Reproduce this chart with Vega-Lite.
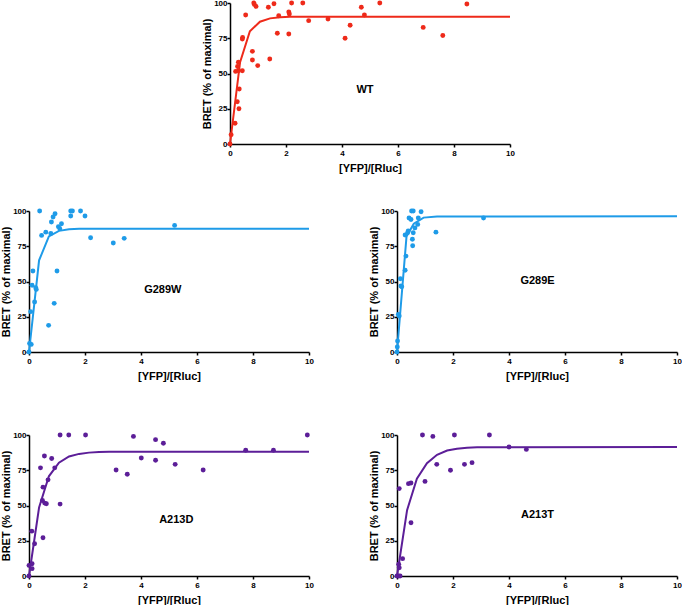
{
  "$schema": "https://vega.github.io/schema/vega-lite/v6.json",
  "padding": {"left": 0, "top": -1, "right": 0, "bottom": 0},
  "background": "white",
  "config": {
    "font": "Liberation Sans",
    "view": {"stroke": null},
    "axis": {
      "domainColor": "black", "domainWidth": 1.5,
      "tickColor": "black", "tickWidth": 1.5, "tickSize": 3,
      "labelFont": "Liberation Sans", "labelFontSize": 8, "labelFontWeight": "bold", "labelColor": "black",
      "titleFont": "Liberation Sans", "titleFontSize": 11, "titleFontWeight": "bold", "titleColor": "black",
      "grid": false, "labelFlush": false
    },
    "axisY": {"labelPadding": 0, "titlePadding": 1},
    "axisX": {"labelPadding": 2, "titlePadding": 5}
  },
  "datasets": {
    "pts": [
      {"g":"WT","x":0,"y":0},{"g":"WT","x":0.04,"y":6.6},{"g":"WT","x":0.18,"y":14.7},{"g":"WT","x":0.2,"y":51.5},{"g":"WT","x":0.26,"y":30},{"g":"WT","x":0.27,"y":55},{"g":"WT","x":0.3,"y":58},{"g":"WT","x":0.32,"y":25},{"g":"WT","x":0.33,"y":39},{"g":"WT","x":0.3,"y":52},{"g":"WT","x":0.44,"y":74.5},{"g":"WT","x":0.45,"y":75.5},{"g":"WT","x":0.44,"y":52},{"g":"WT","x":0.56,"y":91.5},{"g":"WT","x":0.8,"y":65.7},{"g":"WT","x":0.8,"y":59.6},{"g":"WT","x":0.85,"y":100},{"g":"WT","x":0.87,"y":99},{"g":"WT","x":0.93,"y":97.6},{"g":"WT","x":0.99,"y":55.6},{"g":"WT","x":1.37,"y":97},{"g":"WT","x":1.42,"y":60.3},{"g":"WT","x":1.57,"y":99.5},{"g":"WT","x":1.69,"y":78.5},{"g":"WT","x":1.74,"y":91},{"g":"WT","x":2.1,"y":93.6},{"g":"WT","x":2.12,"y":92.2},{"g":"WT","x":2.1,"y":78},{"g":"WT","x":2.2,"y":100},{"g":"WT","x":2.6,"y":100},{"g":"WT","x":2.81,"y":87.5},{"g":"WT","x":3.5,"y":88.7},{"g":"WT","x":4.11,"y":75},{"g":"WT","x":4.29,"y":84.2},{"g":"WT","x":4.69,"y":97},{"g":"WT","x":4.8,"y":91.5},{"g":"WT","x":5.35,"y":100},{"g":"WT","x":6.9,"y":82.7},{"g":"WT","x":7.6,"y":77},{"g":"WT","x":8.46,"y":99.3},
      {"g":"G289W","x":0,"y":0},{"g":"G289W","x":0.02,"y":6},{"g":"G289W","x":0.08,"y":5.4},{"g":"G289W","x":0.06,"y":28.6},{"g":"G289W","x":0.11,"y":47.3},{"g":"G289W","x":0.14,"y":57.4},{"g":"G289W","x":0.2,"y":35.5},{"g":"G289W","x":0.24,"y":45.6},{"g":"G289W","x":0.26,"y":44.4},{"g":"G289W","x":0.38,"y":100},{"g":"G289W","x":0.45,"y":82.7},{"g":"G289W","x":0.6,"y":85},{"g":"G289W","x":0.7,"y":18.9},{"g":"G289W","x":0.78,"y":84},{"g":"G289W","x":0.8,"y":92.2},{"g":"G289W","x":0.86,"y":95.7},{"g":"G289W","x":0.93,"y":98.1},{"g":"G289W","x":0.9,"y":34.5},{"g":"G289W","x":1.0,"y":57.4},{"g":"G289W","x":1.05,"y":88.9},{"g":"G289W","x":1.1,"y":87.5},{"g":"G289W","x":1.16,"y":91},{"g":"G289W","x":1.49,"y":100},{"g":"G289W","x":1.55,"y":100},{"g":"G289W","x":1.49,"y":96.5},{"g":"G289W","x":1.84,"y":100},{"g":"G289W","x":2.0,"y":96.5},{"g":"G289W","x":2.2,"y":81},{"g":"G289W","x":3.01,"y":77.3},{"g":"G289W","x":3.4,"y":80.6},{"g":"G289W","x":5.2,"y":89.8},
      {"g":"G289E","x":0,"y":0},{"g":"G289E","x":0.01,"y":3.5},{"g":"G289E","x":0.02,"y":7.8},{"g":"G289E","x":0.05,"y":26.7},{"g":"G289E","x":0.08,"y":25.5},{"g":"G289E","x":0.12,"y":52},{"g":"G289E","x":0.14,"y":46.8},{"g":"G289E","x":0.17,"y":46.3},{"g":"G289E","x":0.29,"y":58},{"g":"G289E","x":0.32,"y":68},{"g":"G289E","x":0.29,"y":83},{"g":"G289E","x":0.38,"y":84.6},{"g":"G289E","x":0.4,"y":85.8},{"g":"G289E","x":0.43,"y":95},{"g":"G289E","x":0.5,"y":94},{"g":"G289E","x":0.52,"y":100},{"g":"G289E","x":0.58,"y":100},{"g":"G289E","x":0.55,"y":80},{"g":"G289E","x":0.56,"y":75.4},{"g":"G289E","x":0.58,"y":84.6},{"g":"G289E","x":0.64,"y":88},{"g":"G289E","x":0.74,"y":90.5},{"g":"G289E","x":0.76,"y":95},{"g":"G289E","x":0.86,"y":99.5},{"g":"G289E","x":1.39,"y":85},{"g":"G289E","x":3.09,"y":95},
      {"g":"A213D","x":0,"y":0},{"g":"A213D","x":0,"y":7.5},{"g":"A213D","x":0.11,"y":8.7},{"g":"A213D","x":0.11,"y":5.2},{"g":"A213D","x":0.1,"y":31.8},{"g":"A213D","x":0.2,"y":22.9},{"g":"A213D","x":0.41,"y":76.7},{"g":"A213D","x":0.5,"y":27.1},{"g":"A213D","x":0.5,"y":63},{"g":"A213D","x":0.48,"y":53.5},{"g":"A213D","x":0.56,"y":51.7},{"g":"A213D","x":0.55,"y":85.1},{"g":"A213D","x":0.62,"y":51.2},{"g":"A213D","x":0.68,"y":68.2},{"g":"A213D","x":0.81,"y":83.3},{"g":"A213D","x":0.92,"y":76.7},{"g":"A213D","x":1.11,"y":100},{"g":"A213D","x":1.11,"y":51},{"g":"A213D","x":1.42,"y":100},{"g":"A213D","x":2.02,"y":100},{"g":"A213D","x":3.11,"y":75.2},{"g":"A213D","x":3.51,"y":72.2},{"g":"A213D","x":3.73,"y":99},{"g":"A213D","x":4.01,"y":83.7},{"g":"A213D","x":4.52,"y":96.7},{"g":"A213D","x":4.52,"y":82.1},{"g":"A213D","x":4.8,"y":94.1},{"g":"A213D","x":5.22,"y":79.2},{"g":"A213D","x":6.22,"y":75.2},{"g":"A213D","x":7.74,"y":89.2},{"g":"A213D","x":8.73,"y":89.2},{"g":"A213D","x":9.94,"y":100},
      {"g":"A213T","x":0,"y":0},{"g":"A213T","x":0.05,"y":0},{"g":"A213T","x":0.11,"y":0},{"g":"A213T","x":0.06,"y":8.3},{"g":"A213T","x":0.08,"y":5.9},{"g":"A213T","x":0.08,"y":62},{"g":"A213T","x":0.2,"y":12.3},{"g":"A213T","x":0.41,"y":65.5},{"g":"A213T","x":0.5,"y":66},{"g":"A213T","x":0.5,"y":37.8},{"g":"A213T","x":0.91,"y":100},{"g":"A213T","x":1.0,"y":67.1},{"g":"A213T","x":1.28,"y":99},{"g":"A213T","x":1.42,"y":79.2},{"g":"A213T","x":1.91,"y":75},{"g":"A213T","x":2.05,"y":100},{"g":"A213T","x":2.41,"y":79.2},{"g":"A213T","x":2.68,"y":80.4},{"g":"A213T","x":3.3,"y":100},{"g":"A213T","x":4.0,"y":91.5},{"g":"A213T","x":4.62,"y":89.8}
    ],
    "fit": [
      {"g":"WT","x":0,"y":0},{"g":"WT","x":0.36,"y":58},{"g":"WT","x":0.71,"y":80},{"g":"WT","x":1.07,"y":86.7},{"g":"WT","x":1.43,"y":89.1},{"g":"WT","x":1.79,"y":89.9},{"g":"WT","x":2.14,"y":90.2},{"g":"WT","x":10,"y":90.3},
      {"g":"G289W","x":0,"y":0},{"g":"G289W","x":0.36,"y":65},{"g":"G289W","x":0.71,"y":82},{"g":"G289W","x":1.07,"y":85.9},{"g":"G289W","x":1.43,"y":87.1},{"g":"G289W","x":1.79,"y":87.4},{"g":"G289W","x":10,"y":87.5},
      {"g":"G289E","x":0,"y":0},{"g":"G289E","x":0.34,"y":82},{"g":"G289E","x":0.6,"y":91},{"g":"G289E","x":0.95,"y":95.3},{"g":"G289E","x":1.43,"y":96.1},{"g":"G289E","x":10,"y":96.3},
      {"g":"A213D","x":0,"y":0},{"g":"A213D","x":0.36,"y":48.6},{"g":"A213D","x":0.71,"y":70.7},{"g":"A213D","x":1.07,"y":80.3},{"g":"A213D","x":1.43,"y":84.8},{"g":"A213D","x":1.79,"y":86.6},{"g":"A213D","x":2.14,"y":87.5},{"g":"A213D","x":2.5,"y":87.9},{"g":"A213D","x":2.86,"y":88.1},{"g":"A213D","x":10,"y":88.2},
      {"g":"A213T","x":0,"y":0},{"g":"A213T","x":0.36,"y":46.7},{"g":"A213T","x":0.71,"y":69},{"g":"A213T","x":1.07,"y":80},{"g":"A213T","x":1.43,"y":86},{"g":"A213T","x":1.79,"y":89},{"g":"A213T","x":2.14,"y":90.3},{"g":"A213T","x":2.5,"y":91},{"g":"A213T","x":2.86,"y":91.3},{"g":"A213T","x":10,"y":91.5}
    ],
    "labels": [
      {"g":"WT","x":4.82,"y":38.5,"label":"WT"},
      {"g":"G289W","x":4.78,"y":44,"label":"G289W"},
      {"g":"G289E","x":5.02,"y":50.4,"label":"G289E"},
      {"g":"A213D","x":5.26,"y":40,"label":"A213D"},
      {"g":"A213T","x":5.02,"y":43,"label":"A213T"}
    ]
  },
  "vconcat": [
    {
      "spacing": 34,
      "vconcat": [
        {
          "spacing": 20,
          "hconcat": [
            {"width": 152, "height": 1, "data": {"values": [{"x": 0}]}, "mark": {"type": "point", "opacity": 0}, "encoding": {}},
            {
              "width": 280, "height": 141,
              "encoding": {
                "x": {"field": "x", "type": "quantitative", "scale": {"domain": [0, 10], "nice": false}, "axis": {"values": [0, 2, 4, 6, 8, 10], "title": "[YFP]/[Rluc]"}},
                "y": {"field": "y", "type": "quantitative", "scale": {"domain": [0, 100], "nice": false}, "axis": {"values": [0, 25, 50, 75, 100], "title": "BRET (% of maximal)"}}
              },
              "layer": [
                {"data": {"name": "fit"}, "transform": [{"filter": "datum.g === 'WT'"}], "mark": {"type": "line", "color": "#ee2a1a", "strokeWidth": 2}},
                {"data": {"name": "pts"}, "transform": [{"filter": "datum.g === 'WT'"}], "mark": {"type": "circle", "size": 24, "color": "#ee2a1a", "opacity": 1}},
                {"data": {"name": "labels"}, "transform": [{"filter": "datum.g === 'WT'"}], "mark": {"type": "text", "fontSize": 11, "fontWeight": "bold", "font": "Liberation Sans", "color": "black"}, "encoding": {"text": {"field": "label"}}}
              ]
            }
          ]
        },
        {
          "spacing": 54,
          "hconcat": [
            {
              "width": 280, "height": 141,
              "encoding": {
                "x": {"field": "x", "type": "quantitative", "scale": {"domain": [0, 10], "nice": false}, "axis": {"values": [0, 2, 4, 6, 8, 10], "title": "[YFP]/[Rluc]"}},
                "y": {"field": "y", "type": "quantitative", "scale": {"domain": [0, 100], "nice": false}, "axis": {"values": [0, 25, 50, 75, 100], "title": "BRET (% of maximal)"}}
              },
              "layer": [
                {"data": {"name": "fit"}, "transform": [{"filter": "datum.g === 'G289W'"}], "mark": {"type": "line", "color": "#1e9be8", "strokeWidth": 2}},
                {"data": {"name": "pts"}, "transform": [{"filter": "datum.g === 'G289W'"}], "mark": {"type": "circle", "size": 24, "color": "#1e9be8", "opacity": 1}},
                {"data": {"name": "labels"}, "transform": [{"filter": "datum.g === 'G289W'"}], "mark": {"type": "text", "fontSize": 11, "fontWeight": "bold", "font": "Liberation Sans", "color": "black"}, "encoding": {"text": {"field": "label"}}}
              ]
            },
            {
              "width": 280, "height": 141,
              "encoding": {
                "x": {"field": "x", "type": "quantitative", "scale": {"domain": [0, 10], "nice": false}, "axis": {"values": [0, 2, 4, 6, 8, 10], "title": "[YFP]/[Rluc]"}},
                "y": {"field": "y", "type": "quantitative", "scale": {"domain": [0, 100], "nice": false}, "axis": {"values": [0, 25, 50, 75, 100], "title": "BRET (% of maximal)"}}
              },
              "layer": [
                {"data": {"name": "fit"}, "transform": [{"filter": "datum.g === 'G289E'"}], "mark": {"type": "line", "color": "#1e9be8", "strokeWidth": 2}},
                {"data": {"name": "pts"}, "transform": [{"filter": "datum.g === 'G289E'"}], "mark": {"type": "circle", "size": 24, "color": "#1e9be8", "opacity": 1}},
                {"data": {"name": "labels"}, "transform": [{"filter": "datum.g === 'G289E'"}], "mark": {"type": "text", "fontSize": 11, "fontWeight": "bold", "font": "Liberation Sans", "color": "black"}, "encoding": {"text": {"field": "label"}}}
              ]
            }
          ]
        }
      ]
    },
    {
      "spacing": 54,
      "hconcat": [
        {
          "width": 280, "height": 141,
          "encoding": {
            "x": {"field": "x", "type": "quantitative", "scale": {"domain": [0, 10], "nice": false}, "axis": {"values": [0, 2, 4, 6, 8, 10], "title": "[YFP]/[Rluc]"}},
            "y": {"field": "y", "type": "quantitative", "scale": {"domain": [0, 100], "nice": false}, "axis": {"values": [0, 25, 50, 75, 100], "title": "BRET (% of maximal)"}}
          },
          "layer": [
            {"data": {"name": "fit"}, "transform": [{"filter": "datum.g === 'A213D'"}], "mark": {"type": "line", "color": "#5c1e98", "strokeWidth": 2}},
            {"data": {"name": "pts"}, "transform": [{"filter": "datum.g === 'A213D'"}], "mark": {"type": "circle", "size": 24, "color": "#5c1e98", "opacity": 1}},
            {"data": {"name": "labels"}, "transform": [{"filter": "datum.g === 'A213D'"}], "mark": {"type": "text", "fontSize": 11, "fontWeight": "bold", "font": "Liberation Sans", "color": "black"}, "encoding": {"text": {"field": "label"}}}
          ]
        },
        {
          "width": 280, "height": 141,
          "encoding": {
            "x": {"field": "x", "type": "quantitative", "scale": {"domain": [0, 10], "nice": false}, "axis": {"values": [0, 2, 4, 6, 8, 10], "title": "[YFP]/[Rluc]"}},
            "y": {"field": "y", "type": "quantitative", "scale": {"domain": [0, 100], "nice": false}, "axis": {"values": [0, 25, 50, 75, 100], "title": "BRET (% of maximal)"}}
          },
          "layer": [
            {"data": {"name": "fit"}, "transform": [{"filter": "datum.g === 'A213T'"}], "mark": {"type": "line", "color": "#5c1e98", "strokeWidth": 2}},
            {"data": {"name": "pts"}, "transform": [{"filter": "datum.g === 'A213T'"}], "mark": {"type": "circle", "size": 24, "color": "#5c1e98", "opacity": 1}},
            {"data": {"name": "labels"}, "transform": [{"filter": "datum.g === 'A213T'"}], "mark": {"type": "text", "fontSize": 11, "fontWeight": "bold", "font": "Liberation Sans", "color": "black"}, "encoding": {"text": {"field": "label"}}}
          ]
        }
      ]
    }
  ],
  "spacing": 50
}
